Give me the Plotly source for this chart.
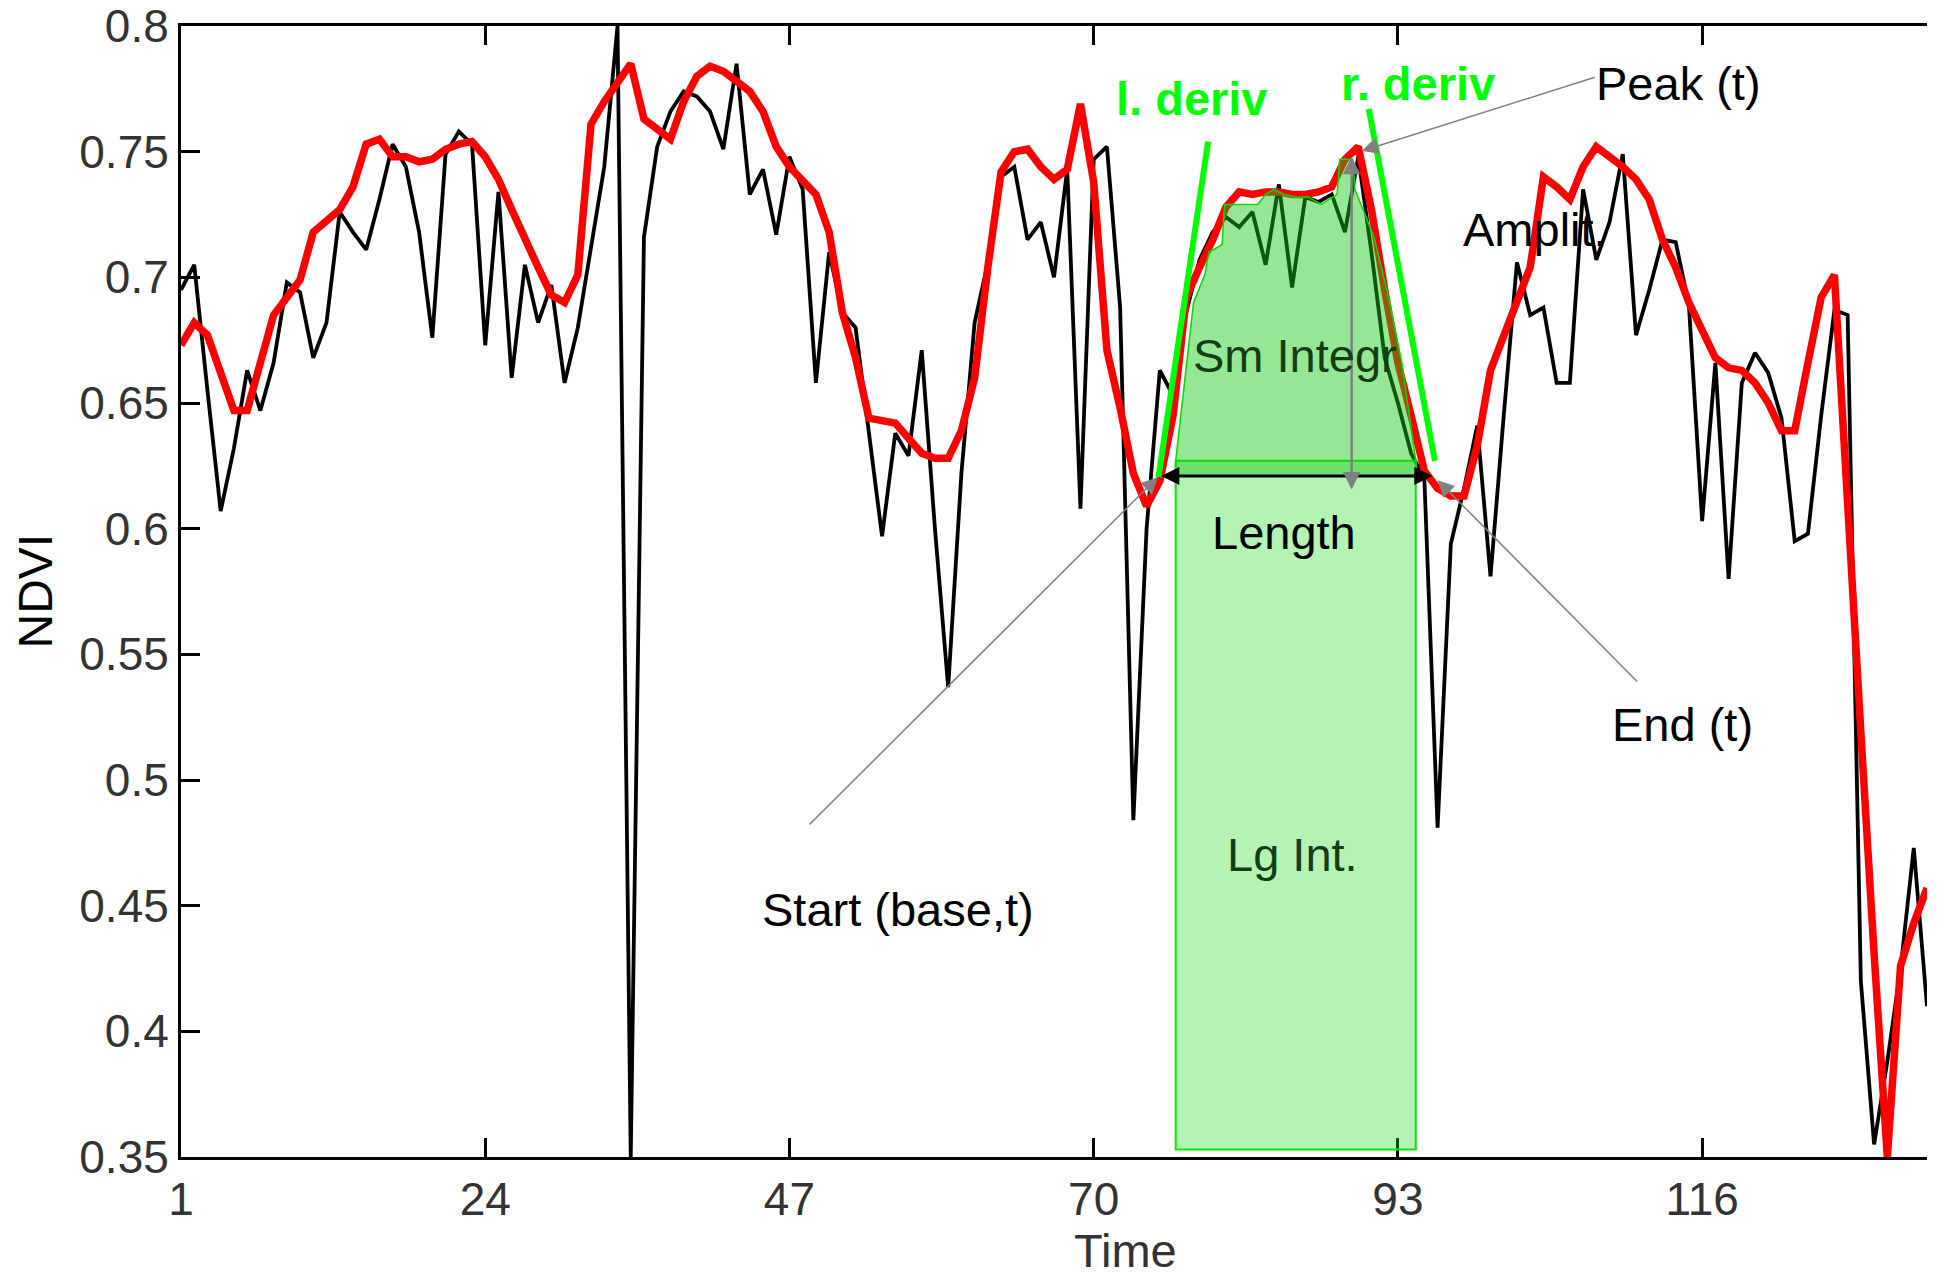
import plotly.graph_objects as go

# ---- NDVI time series -------------------------------------------------------
time = list(range(1, 134))

ndvi_raw = [
    0.695, 0.705, 0.655, 0.607, 0.632, 0.663, 0.647, 0.666, 0.698, 0.694,
    0.668, 0.682, 0.726, 0.718, 0.711, 0.731, 0.753, 0.744, 0.718, 0.676,
    0.749, 0.758, 0.753, 0.673, 0.734, 0.660, 0.705, 0.682, 0.697, 0.658,
    0.680, 0.711, 0.744, 0.800, 0.350, 0.716, 0.752, 0.766, 0.774, 0.772,
    0.766, 0.751, 0.785, 0.733, 0.743, 0.717, 0.748, 0.735, 0.658, 0.710,
    0.686, 0.680, 0.638, 0.597, 0.638, 0.629, 0.671, 0.600, 0.537, 0.622,
    0.682, 0.706, 0.740, 0.744, 0.715, 0.722, 0.700, 0.743, 0.608, 0.747,
    0.752, 0.688, 0.484, 0.600, 0.663, 0.653, 0.686, 0.707, 0.718, 0.724,
    0.720, 0.726, 0.705, 0.737, 0.696, 0.732, 0.730, 0.733, 0.718, 0.748,
    0.710, 0.668, 0.650, 0.630, 0.620, 0.481, 0.594, 0.616, 0.641, 0.581,
    0.645, 0.706, 0.685, 0.688, 0.658, 0.658, 0.735, 0.707, 0.722, 0.749,
    0.677, 0.695, 0.715, 0.714, 0.689, 0.603, 0.666, 0.580, 0.658, 0.670,
    0.662, 0.644, 0.595, 0.598, 0.645, 0.687, 0.685, 0.420, 0.355, 0.388,
    0.425, 0.473, 0.410,
]

ndvi_smooth = [
    0.673, 0.682, 0.677, 0.662, 0.647, 0.647, 0.667, 0.685, 0.692, 0.699,
    0.718, 0.723, 0.727, 0.736, 0.753, 0.755, 0.748, 0.748, 0.746, 0.747,
    0.751, 0.753, 0.754, 0.748, 0.739, 0.727, 0.715, 0.704, 0.693, 0.690,
    0.701, 0.761, 0.770, 0.777, 0.785, 0.763, 0.759, 0.755, 0.770, 0.780,
    0.784, 0.782, 0.778, 0.774, 0.766, 0.752, 0.744, 0.739, 0.733, 0.718,
    0.686, 0.668, 0.644, 0.643, 0.642, 0.636, 0.630, 0.628, 0.628, 0.639,
    0.660, 0.704, 0.742, 0.750, 0.751, 0.744, 0.739, 0.743, 0.769, 0.738,
    0.671, 0.648, 0.622, 0.609, 0.619, 0.645, 0.692, 0.704, 0.715, 0.728,
    0.734, 0.733, 0.734, 0.734, 0.733, 0.733, 0.734, 0.736, 0.747, 0.752,
    0.727, 0.695, 0.666, 0.645, 0.623, 0.616, 0.613, 0.613, 0.633, 0.663,
    0.677, 0.692, 0.704, 0.740, 0.736, 0.731, 0.744, 0.752, 0.748, 0.744,
    0.739, 0.731, 0.715, 0.704, 0.690, 0.679, 0.668, 0.664, 0.663, 0.658,
    0.650, 0.639, 0.639, 0.666, 0.692, 0.701, 0.604, 0.519, 0.431, 0.350,
    0.426, 0.443, 0.457,
]

x_ticks = [1, 24, 47, 70, 93, 116]
y_ticks = [0.35, 0.40, 0.45, 0.50, 0.55, 0.60, 0.65, 0.70, 0.75, 0.80]
y_tick_text = ["0.35", "0.4", "0.45", "0.5", "0.55", "0.6", "0.65", "0.7", "0.75", "0.8"]

# ---- season metrics ---------------------------------------------------------
season_start_t = 76.2
season_end_t = 94.35
base_level = 0.621          # start/end base NDVI (Length arrow)
lg_top = 0.627              # top edge of the large integral
lg_floor = 0.353            # floor of the large integral
length_arrow_t = [75.0, 95.6]
peak_t = 89.5
amplitude_v = [0.615, 0.748]

# outline of the small integral (fitted curve above base level)
sm_int_t = [76.2, 77.55, 78.4, 78.7, 79.7, 79.9, 82.4, 83.0, 83.6, 84.4, 85.2,
            86.2, 87.2, 88.4, 88.6, 89.6, 89.75, 91.2, 92.3, 93.3, 94.0, 94.35, 94.35]
sm_int_v = [0.627, 0.690, 0.701, 0.710, 0.713, 0.729, 0.729, 0.733, 0.735, 0.733, 0.732,
            0.732, 0.729, 0.733, 0.747, 0.747, 0.735, 0.716, 0.692, 0.666, 0.640, 0.627, 0.621]

# tangent lines at the left and right inflection points
left_deriv_t = [74.9, 78.65]
left_deriv_v = [0.6205, 0.754]
right_deriv_t = [90.8, 95.8]
right_deriv_v = [0.767, 0.627]

# ---- figure -----------------------------------------------------------------
fig = go.Figure()

fig.add_trace(go.Scatter(x=time, y=ndvi_raw, mode="lines",
                         line=dict(color="black", width=3.8), hoverinfo="skip"))
fig.add_trace(go.Scatter(x=time, y=ndvi_smooth, mode="lines",
                         line=dict(color="#ff0000", width=7.5), hoverinfo="skip"))

# large integral rectangle
fig.add_shape(type="rect", xref="x", yref="y",
              x0=season_start_t, x1=season_end_t, y0=lg_floor, y1=lg_top,
              fillcolor="rgba(40,220,40,0.35)", line=dict(color="#00ee00", width=2),
              layer="above")

# small integral polygon
path = "M {},{} ".format(season_start_t, base_level)
path += " ".join("L {},{}".format(t, v) for t, v in zip(sm_int_t, sm_int_v))
path += " Z"
fig.add_shape(type="path", path=path, xref="x", yref="y",
              fillcolor="rgba(20,200,20,0.45)", line=dict(color="#00dd00", width=1.5),
              layer="above")

# derivative tangents
for tt, vv in ((left_deriv_t, left_deriv_v), (right_deriv_t, right_deriv_v)):
    fig.add_shape(type="line", xref="x", yref="y",
                  x0=tt[0], y0=vv[0], x1=tt[1], y1=vv[1],
                  line=dict(color="#00ff00", width=6), layer="above")

TEXT_FONT = "Liberation Sans, Arial, sans-serif"
TICK_FONT = "Liberation Sans, Arial, sans-serif"


def label(text, x, y, color="black", size=47, bold=False):
    fig.add_annotation(x=x, y=y, xref="x", yref="y", text=("<b>%s</b>" % text) if bold else text,
                       showarrow=False, xanchor="center", yanchor="middle",
                       font=dict(family=TEXT_FONT, size=size, color=color))


def arrow(x, y, ax, ay, color, width, size, both=False):
    fig.add_annotation(x=x, y=y, ax=ax, ay=ay, xref="x", yref="y", axref="x", ayref="y",
                       text="", showarrow=True, arrowhead=2, arrowsize=size,
                       arrowwidth=width, arrowcolor=color, standoff=0, startstandoff=0,
                       arrowside="end+start" if both else "end", startarrowhead=2,
                       startarrowsize=size)


# pointer lines
arrow(74.85, 0.6205, 48.4, 0.4817, "#808080", 1.5, 2.2)
arrow(90.27, 0.7503, 108.0, 0.7798, "#808080", 1.5, 2.2)
arrow(96.0, 0.6193, 111.2, 0.5386, "#808080", 1.5, 2.2)

# length and amplitude double arrows
arrow(length_arrow_t[1], base_level, length_arrow_t[0], base_level, "black", 3, 1.2, both=True)
arrow(peak_t, amplitude_v[1], peak_t, amplitude_v[0], "#808080", 2.5, 1.4, both=True)

label("l. deriv", 77.4, 0.771, color="#00ff00", size=47, bold=True)
label("r. deriv", 94.5, 0.777, color="#00ff00", size=47, bold=True)
label("Peak (t)", 114.2, 0.777)
label("Amplit.", 103.4, 0.719)
label("Sm Integr", 85.2, 0.669, color="#133d13")
label("Length", 84.4, 0.5986)
label("Lg Int.", 85.05, 0.4705, color="#133d13")
label("Start (base,t)", 55.2, 0.4486)
label("End (t)", 114.5, 0.5222)

fig.add_annotation(x=-0.0836, y=0.5, xref="paper", yref="paper", text="NDVI",
                   textangle=-90, showarrow=False, xanchor="center", yanchor="middle",
                   font=dict(family=TEXT_FONT, size=48, color="black"))
fig.add_annotation(x=0.5412, y=-0.083, xref="paper", yref="paper", text="Time",
                   showarrow=False, xanchor="center", yanchor="middle",
                   font=dict(family=TICK_FONT, size=47, color="#333333"))

fig.update_layout(
    width=1940, height=1285,
    margin=dict(l=181, r=13, t=26, b=128, autoexpand=False),
    paper_bgcolor="white", plot_bgcolor="white",
    showlegend=False,
    xaxis=dict(range=[1, 133], tickvals=x_ticks, ticks="inside", ticklen=19, tickwidth=3,
               tickcolor="black", showline=True, linewidth=3, linecolor="black",
               mirror="ticks", showgrid=False, zeroline=False, automargin=False,
               tickfont=dict(family=TICK_FONT, size=46, color="#333333")),
    yaxis=dict(range=[0.35, 0.80002], tickvals=y_ticks, ticktext=y_tick_text, ticks="inside",
               ticklen=19, tickwidth=3, tickcolor="black", showline=True, linewidth=3,
               linecolor="black", showgrid=False, zeroline=False, automargin=False,
               tickfont=dict(family=TICK_FONT, size=46, color="#333333")),
)

fig.write_html("out.html")
